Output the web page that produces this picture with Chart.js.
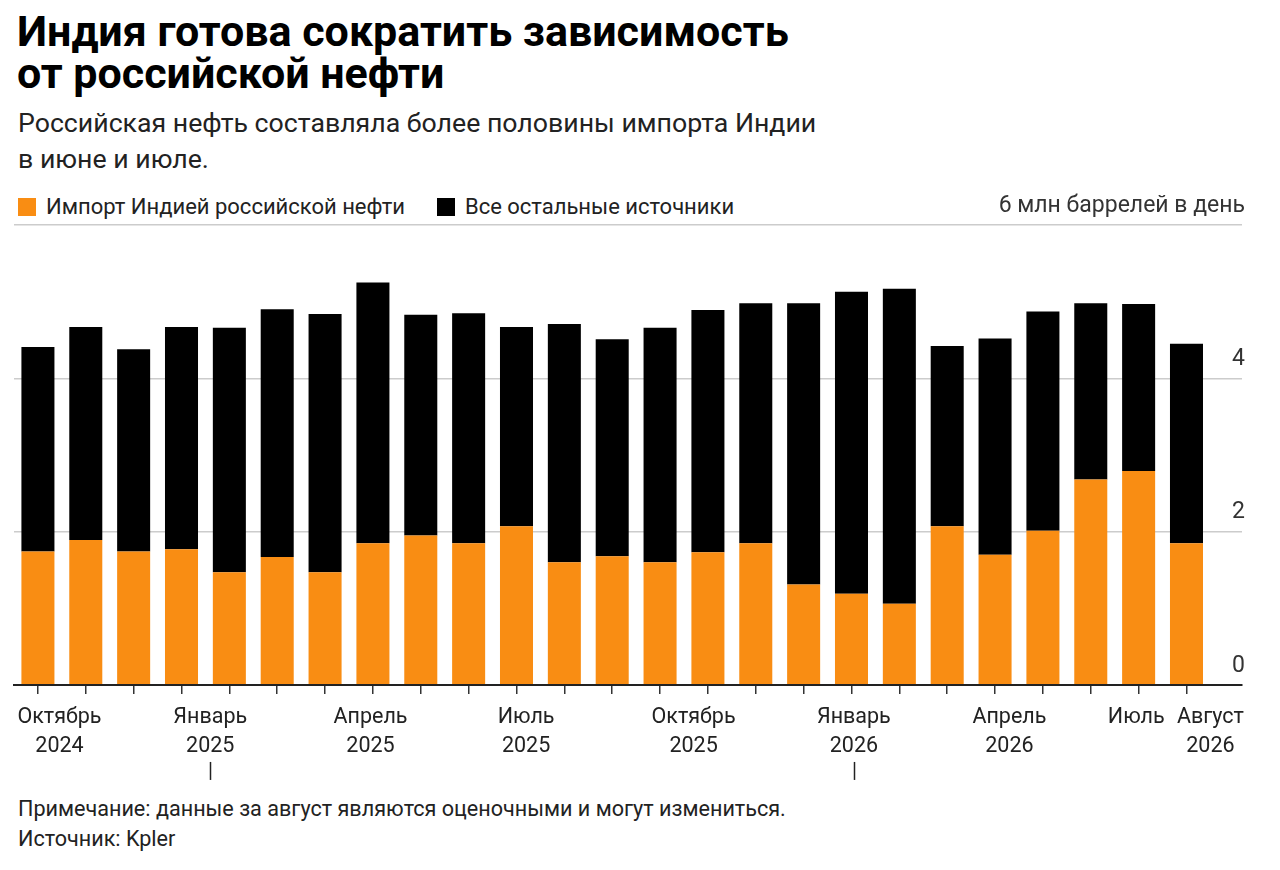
<!DOCTYPE html>
<html lang="ru">
<head>
<meta charset="utf-8">
<script src="https://cdn.jsdelivr.net/npm/chart.js@4.4.1/dist/chart.umd.min.js"></script>
<style>
  body { margin: 0; background: #fff; font-family: Roboto, "Liberation Sans", sans-serif; color: #111; }
  #page { position: relative; width: 1280px; height: 870px; overflow: hidden; }
  h1 { position: absolute; left: 17px; top: 10px; margin: 0; font-size: 43px; line-height: 42px; font-weight: 700; color: #000; }
  .sub { position: absolute; left: 18px; top: 105px; font-size: 26.7px; line-height: 36px; color: #222; }
  #legend { position: absolute; left: 18px; top: 195px; font-size: 22px; line-height: 24px; color: #222; }
  #legend .item { display: inline-block; margin-right: 32px; }
  #legend i { display: inline-block; width: 18px; height: 18px; margin-right: 10px; vertical-align: -2px; }
  #chartBox { position: absolute; left: 0; top: 190px; width: 1280px; height: 600px; }
  .note { position: absolute; left: 18px; top: 794px; font-size: 21.6px; line-height: 30px; color: #222; }
</style>
</head>
<body>
<div id="page">
  <h1>Индия готова сократить зависимость<br>от российской нефти</h1>
  <div class="sub">Российская нефть составляла более половины импорта Индии<br>в июне и июле.</div>
  <div id="legend"></div>
  <div id="chartBox"><canvas id="myChart"></canvas></div>
  <div class="note">Примечание: данные за август являются оценочными и могут измениться.<br>Источник: Kpler</div>
</div>
<script>
// месяцы, млн баррелей в день
const months = [
  'Август 2024', 'Сентябрь 2024', 'Октябрь 2024', 'Ноябрь 2024', 'Декабрь 2024',
  'Январь 2025', 'Февраль 2025', 'Март 2025', 'Апрель 2025', 'Май 2025', 'Июнь 2025', 'Июль 2025',
  'Август 2025', 'Сентябрь 2025', 'Октябрь 2025', 'Ноябрь 2025', 'Декабрь 2025',
  'Январь 2026', 'Февраль 2026', 'Март 2026', 'Апрель 2026', 'Май 2026', 'Июнь 2026', 'Июль 2026',
  'Август 2026'
]
const russianOil = [1.74, 1.89, 1.74, 1.77, 1.47, 1.67, 1.47, 1.85, 1.95, 1.85, 2.07, 1.60, 1.68,
  1.60, 1.73, 1.85, 1.31, 1.19, 1.06, 2.07, 1.70, 2.01, 2.68, 2.79, 1.85]
const otherSources = [2.67, 2.78, 2.64, 2.90, 3.19, 3.23, 3.37, 3.40, 2.88, 3.00, 2.60, 3.11, 2.83,
  3.06, 3.16, 3.13, 3.67, 3.94, 4.11, 2.35, 2.82, 2.86, 2.30, 2.18, 2.60]

// подписи оси X и где они стоят (индекс месяца)
const tickLabels = [['Октябрь', '2024'], ['Январь', '2025'], ['Апрель', '2025'], ['Июль', '2025'],
  ['Октябрь', '2025'], ['Январь', '2026'], ['Апрель', '2026'], ['Июль'], ['Август', '2026']]
const tickAt = [0.45, 3.6, 6.95, 10.2, 13.7, 17.05, 20.3, 22.95, 24.5]
const yTicks = [0, 2, 4, 6]

const xMax = months.length - 0.5 + 0.66

// длинные засечки под январём
const yearMarks = {
  id: 'yearMarks',
  afterDraw (chart) {
    const s = chart.scales.x2
    const c = chart.ctx
    c.save()
    c.strokeStyle = '#222'
    c.lineWidth = 1.5
    tickLabels.forEach((l, i) => {
      if (l[0] !== 'Январь') return
      const x = Math.round(s.getPixelForValue(tickAt[i])) + 0.5
      c.beginPath()
      c.moveTo(x, s.top + 68)
      c.lineTo(x, s.top + 86)
      c.stroke()
    })
    c.restore()
  }
}

const ctx = document.getElementById('myChart')
const chart = new Chart(ctx, {
  type: 'bar',
  data: {
    datasets: [{
      label: 'Импорт Индией российской нефти',
      data: russianOil.map((v, i) => ({ x: i, y: v })),
      backgroundColor: '#f98d13',
    }, {
      label: 'Все остальные источники',
      data: otherSources.map((v, i) => ({ x: i, y: v })),
      backgroundColor: '#000000',
    }],
  },
  options: {
    responsive: true,
    maintainAspectRatio: false,
    animation: false,
    layout: { padding: { left: 14, right: 32, top: 35, bottom: 28 } },
    datasets: { bar: { barPercentage: 1, categoryPercentage: 0.69 } },
    plugins: {
      legend: { display: false },
      tooltip: {
        callbacks: {
          title: items => months[items[0].raw.x],
        }
      }
    },
    scales: {
      x: {
        type: 'linear', stacked: true, min: -0.5, max: xMax, offset: false,
        afterBuildTicks: s => { s.ticks = months.map((m, i) => ({ value: i })) },
        ticks: { display: false },
        grid: { offset: false, drawOnChartArea: false, tickLength: 9, color: '#333', lineWidth: 1.5 },
        border: { color: '#222', width: 2 },
      },
      x2: {
        type: 'linear', position: 'bottom', min: -0.5, max: xMax, offset: false,
        afterBuildTicks: s => { s.ticks = tickAt.map(v => ({ value: v })) },
        ticks: {
          callback: (v, i) => tickLabels[i],
          autoSkip: false, maxRotation: 0, padding: 1,
          font: { family: 'Roboto', size: 21.5, lineHeight: 1.35 }, color: '#222',
        },
        grid: { display: false, offset: false },
        border: { display: false },
      },
      y: {
        type: 'linear', position: 'right', stacked: true, min: 0, max: 6,
        afterBuildTicks: s => { s.ticks = yTicks.map(v => ({ value: v })) },
        ticks: {
          mirror: true, labelOffset: -19, padding: 3,
          callback: v => v === 6 ? '6 млн баррелей в день' : v,
          font: { family: 'Roboto', size: 23 }, color: '#333',
        },
        grid: {
          drawTicks: false,
          color: c => c.tick && c.tick.value === 0 ? '#222' : '#cccccc',
          lineWidth: c => c.tick && c.tick.value === 0 ? 2 : 1.5,
        },
        border: { display: false },
      },
    },
  },
  plugins: [yearMarks],
})

document.getElementById('legend').innerHTML = chart.data.datasets.map(d =>
  '<span class="item"><i style="background:' + d.backgroundColor + '"></i>' + d.label + '</span>').join('')
</script>
</body>
</html>
